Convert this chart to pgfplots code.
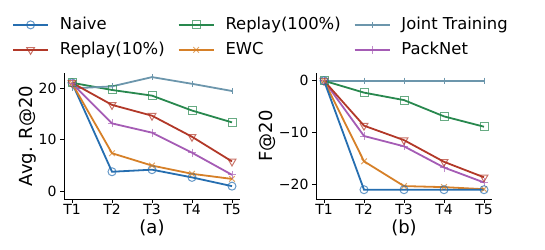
\documentclass[border=0pt]{standalone}
\usepackage{pgfplots}
\pgfplotsset{compat=1.18}
\usepackage{fontspec}
\setmainfont{DejaVu Sans}
\definecolor{cNaive}{RGB}{38,110,176}
\definecolor{cRten}{RGB}{178,56,40}
\definecolor{cRhun}{RGB}{40,136,78}
\definecolor{cJoint}{RGB}{108,150,172}
\definecolor{cEWC}{RGB}{214,128,40}
\definecolor{cPack}{RGB}{165,92,181}
\pgfplotsset{
  myax/.style={
    scale only axis, width=176pt, height=126pt,
    axis x line*=bottom, axis y line*=left,
    axis line style={-, line width=0.9pt},
    tick align=outside, major tick length=4pt,
    tick style={black, line width=0.9pt},
    xtick={1,2,3,4,5}, xticklabels={T1,T2,T3,T4,T5},
    xmin=0.8, xmax=5.2, clip=false,
    /pgf/number format/assume math mode=true,
    ticklabel style={font=\fontsize{14}{16}\selectfont},
    xticklabel style={yshift=2pt},
    label style={font=\fontsize{18}{21}\selectfont},
    xlabel style={at={(axis description cs:0.5,-0.23)}, anchor=center},
    every axis plot/.append style={line width=1.8pt},
  },
  sNaive/.style={color=cNaive, mark=o, mark size=4pt, mark options={draw opacity=0.7, line width=1pt}},
  sRten/.style={color=cRten, mark=triangle, mark size=4.5pt, mark options={rotate=180, draw opacity=0.7, line width=1pt}},
  sRhun/.style={color=cRhun, mark=square, mark size=4pt, mark options={draw opacity=0.7, line width=1pt}},
  sJoint/.style={color=cJoint, mark=|, mark size=3pt, mark options={line width=0.8pt}},
  sEWC/.style={color=cEWC, mark=x, mark size=4pt, mark options={draw opacity=0.7, line width=1pt}},
  sPack/.style={color=cPack, mark=+, mark size=4pt, mark options={draw opacity=0.7, line width=1pt}},
}
\begin{document}
\begin{tikzpicture}
\useasboundingbox (0pt,0pt) rectangle (545pt,249pt);
\begin{axis}[myax, at={(64pt,50pt)}, anchor=south west,
  ymin=-1.5, ymax=23, ytick={0,10,20},
  ylabel={Avg. R@20}, xlabel={(a)},
  ylabel style={at={(axis description cs:-0.205,0.5)}, anchor=center, rotate=0},
  legend columns=3,
  legend cell align=left,
  legend style={at={(axis description cs:-0.2955,1.445)}, anchor=north west, draw=none, fill=none, inner sep=0pt,
    font=\fontsize{16.4}{19}\selectfont,
    nodes={text height=12pt, text depth=3.5pt, inner ysep=0pt, inner xsep=5.5pt},
    row sep=9.5pt,
    /tikz/every odd column/.append style={column sep=5.5pt},
    /tikz/every even column/.append style={column sep=7.5pt}},
  legend image code/.code={\draw[mark repeat=2,mark phase=2] plot coordinates {(0pt,0pt) (17.5pt,0pt) (35pt,0pt)};},
]
\addplot[sNaive] coordinates {(1,21.1) (2,3.8) (3,4.2) (4,2.7) (5,1.0)};
\addlegendentry{Naive}
\addplot[sRhun] coordinates {(1,21.1) (2,19.7) (3,18.6) (4,15.7) (5,13.4)};
\addlegendentry{Replay(100\%)}
\addplot[sJoint] coordinates {(1,20.0) (2,20.4) (3,22.2) (4,20.9) (5,19.5)};
\addlegendentry{Joint Training}
\addplot[sRten] coordinates {(1,21.1) (2,16.8) (3,14.7) (4,10.6) (5,5.8)};
\addlegendentry{Replay(10\%)}
\addplot[sEWC] coordinates {(1,21.0) (2,7.4) (3,5.0) (4,3.4) (5,2.4)};
\addlegendentry{EWC}
\addplot[sPack] coordinates {(1,21.0) (2,13.2) (3,11.4) (4,7.5) (5,3.2)};
\addlegendentry{PackNet}
\end{axis}
\begin{axis}[myax, at={(316pt,50pt)}, anchor=south west,
  ymin=-22.9, ymax=1.5, ytick={-20,-10,0}, yticklabels={−20,−10,0},
  ylabel={F@20}, xlabel={(b)},
  ylabel style={at={(axis description cs:-0.275,0.5)}, anchor=center, rotate=0},
]
\addplot[sJoint] coordinates {(1,0) (2,0) (3,0) (4,0) (5,0)};
\addplot[sRhun] coordinates {(1,0) (2,-2.3) (3,-3.75) (4,-6.9) (5,-8.9)};
\addplot[sPack] coordinates {(1,0) (2,-10.7) (3,-12.7) (4,-16.8) (5,-19.7)};
\addplot[sRten] coordinates {(1,0) (2,-8.7) (3,-11.5) (4,-15.7) (5,-18.7)};
\addplot[sEWC] coordinates {(1,0) (2,-15.6) (3,-20.4) (4,-20.6) (5,-21.0)};
\addplot[sNaive] coordinates {(1,0) (2,-21.1) (3,-21.1) (4,-21.1) (5,-21.1)};
\end{axis}
\end{tikzpicture}
\end{document}
